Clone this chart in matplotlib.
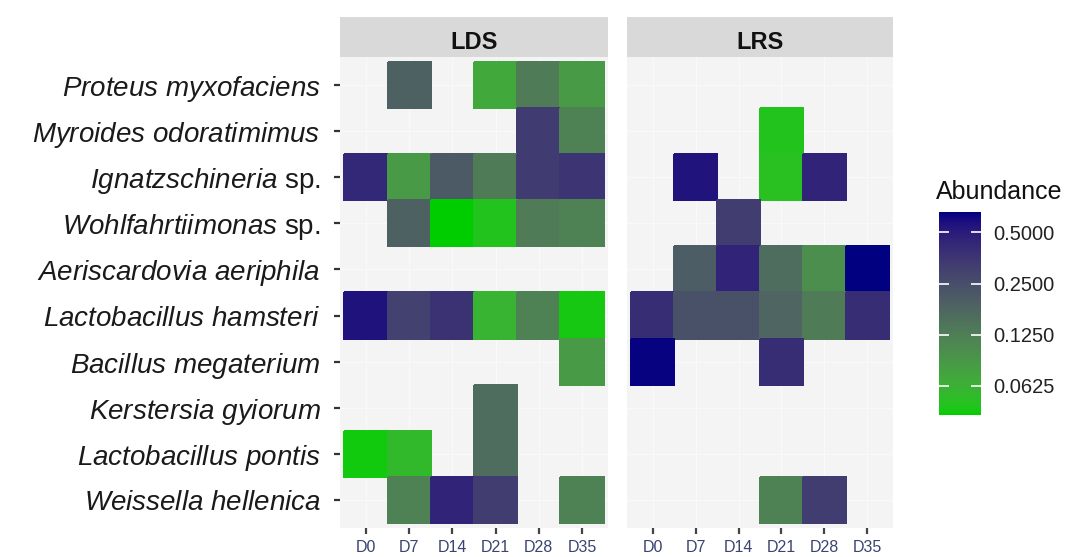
import numpy as np
import matplotlib
matplotlib.use("Agg")
import matplotlib.pyplot as plt
import matplotlib.colors as mcolors
from matplotlib.ticker import NullLocator, FixedLocator, FormatStrFormatter

plt.rcParams["font.family"] = ["Liberation Sans", "DejaVu Sans"]
plt.rcParams["mathtext.fontset"] = "custom"
plt.rcParams["mathtext.it"] = "Liberation Sans:italic"
plt.rcParams["mathtext.rm"] = "Liberation Sans"

# species, top to bottom
species = [
    r"$\mathit{Proteus\ myxofaciens}$",
    r"$\mathit{Myroides\ odoratimimus}$",
    r"$\mathit{Ignatzschineria}$ sp.",
    r"$\mathit{Wohlfahrtiimonas}$ sp.",
    r"$\mathit{Aeriscardovia\ aeriphila}$",
    r"$\mathit{Lactobacillus\ hamsteri}$",
    r"$\mathit{Bacillus\ megaterium}$",
    r"$\mathit{Kerstersia\ gyiorum}$",
    r"$\mathit{Lactobacillus\ pontis}$",
    r"$\mathit{Weissella\ hellenica}$",
]
days = ["D0", "D7", "D14", "D21", "D28", "D35"]
nan = np.nan

lds = [
    [nan, 0.19, nan, 0.07, 0.13, 0.085],
    [nan, nan, nan, nan, 0.33, 0.12],
    [0.43, 0.085, 0.21, 0.13, 0.33, 0.36],
    [nan, 0.19, 0.042, 0.048, 0.13, 0.12],
    [nan, nan, nan, nan, nan, nan],
    [0.56, 0.30, 0.37, 0.06, 0.12, 0.045],
    [nan, nan, nan, nan, nan, 0.085],
    [nan, nan, nan, 0.16, nan, nan],
    [0.044, 0.055, nan, 0.16, nan, nan],
    [nan, 0.12, 0.45, 0.32, nan, 0.12],
]
lrs = [
    [nan, nan, nan, nan, nan, nan],
    [nan, nan, nan, 0.048, nan, nan],
    [nan, 0.55, nan, 0.05, 0.45, nan],
    [nan, nan, 0.32, nan, nan, nan],
    [nan, 0.20, 0.45, 0.16, 0.10, 0.66],
    [0.40, 0.24, 0.24, 0.18, 0.13, 0.40],
    [0.64, nan, nan, 0.40, nan, nan],
    [nan, nan, nan, nan, nan, nan],
    [nan, nan, nan, nan, nan, nan],
    [nan, nan, nan, 0.12, 0.32, nan],
]
groups = ["LDS", "LRS"]
legend_ticks = [0.0625, 0.125, 0.25, 0.5]

# ---- green3 -> navy gradient interpolated in CIELAB ----
M = np.array([[0.4124, 0.3576, 0.1805],
              [0.2126, 0.7152, 0.0722],
              [0.0193, 0.1192, 0.9505]])
WHITE = np.array([0.95047, 1.0, 1.08883])


def to_lab(col):
    rgb = np.array(mcolors.to_rgb(col))
    lin = np.where(rgb <= 0.04045, rgb / 12.92, ((rgb + 0.055) / 1.055) ** 2.4)
    xyz = M @ lin / WHITE
    f = np.where(xyz > 0.008856, np.cbrt(xyz), 7.787 * xyz + 16 / 116)
    return np.array([116 * f[1] - 16, 500 * (f[0] - f[1]), 200 * (f[1] - f[2])])


def from_lab(lab):
    fy = (lab[0] + 16) / 116
    f = np.array([fy + lab[1] / 500, fy, fy - lab[2] / 200])
    xyz = np.where(f ** 3 > 0.008856, f ** 3, (f - 16 / 116) / 7.787) * WHITE
    lin = np.linalg.solve(M, xyz)
    lin = np.clip(lin, 0, 1)
    rgb = np.where(lin <= 0.0031308, 12.92 * lin, 1.055 * lin ** (1 / 2.4) - 0.055)
    return np.clip(rgb, 0, 1)


lo, hi = to_lab("#00CD00"), to_lab("#000080")
cmap = mcolors.ListedColormap([from_lab(lo + (hi - lo) * t) for t in np.linspace(0, 1, 256)])

all_vals = np.concatenate([np.ravel(lds), np.ravel(lrs)])
norm = mcolors.LogNorm(vmin=np.nanmin(all_vals), vmax=np.nanmax(all_vals))

fig = plt.figure(figsize=(10.7, 5.57), dpi=100)
W, H = 1070, 557

panels = [(340, 268), (627, 266)]
top, bottom = 57, 528
for i, (grp, data) in enumerate(zip(groups, [lds, lrs])):
    x0, w = panels[i]
    ax = fig.add_axes([x0 / W, (H - bottom) / H, w / W, (bottom - top) / H])
    ax.set_facecolor("#F4F4F4")
    ax.set_axisbelow(True)
    ax.grid(True, color="#FBFBFB", linewidth=0.6)
    arr = np.ma.masked_invalid(np.array(data, dtype=float))
    ax.pcolormesh(np.arange(len(days) + 1) - 0.5, np.arange(len(species) + 1) - 0.5,
                  arr, cmap=cmap, norm=norm, edgecolors="face", linewidth=0.3)
    ax.set_xlim(-0.6, len(days) - 0.4)
    ax.set_ylim(len(species) - 0.4, -0.6)
    ax.set_xticks(range(len(days)))
    ax.set_xticklabels(days, fontsize=11.5, color="#3a4470")
    ax.set_yticks(range(len(species)))
    if i == 0:
        ax.set_yticklabels(species, fontsize=20, color="#1a1a1a")
        ax.tick_params(axis="y", length=4, width=1.6, color="#333333", pad=10)
    else:
        ax.set_yticklabels([])
        ax.tick_params(axis="y", length=0)
    ax.tick_params(axis="x", length=4, width=1.6, color="#444444", pad=5)
    for s in ax.spines.values():
        s.set_visible(False)

    # facet strip
    sax = fig.add_axes([x0 / W, (H - top) / H, w / W, 40 / H])
    sax.set_facecolor("#D9D9D9")
    sax.set_xticks([])
    sax.set_yticks([])
    for s in sax.spines.values():
        s.set_visible(False)
    sax.text(0.5, 0.36, grp, transform=sax.transAxes, ha="center", va="center",
             fontsize=17, fontweight="bold", color="#111111")

# colour bar legend
cax = fig.add_axes([939 / W, (H - 415) / H, 42 / W, 203 / H])
sm = plt.cm.ScalarMappable(norm=norm, cmap=cmap)
cb = fig.colorbar(sm, cax=cax)
cb.outline.set_visible(False)
cax.yaxis.set_major_locator(FixedLocator(legend_ticks))
cax.yaxis.set_minor_locator(NullLocator())
cax.yaxis.set_major_formatter(FormatStrFormatter("%.4f"))
cax.tick_params(axis="y", which="major", direction="in", left=True, right=True,
                length=7, width=1.2, color="white", labelsize=14.5,
                labelcolor="#222222", pad=9)
fig.text(936 / W, 1 - 192 / H, "Abundance", fontsize=18, color="#111111",
         ha="left", va="center")

fig.savefig("out.png", dpi=100)
